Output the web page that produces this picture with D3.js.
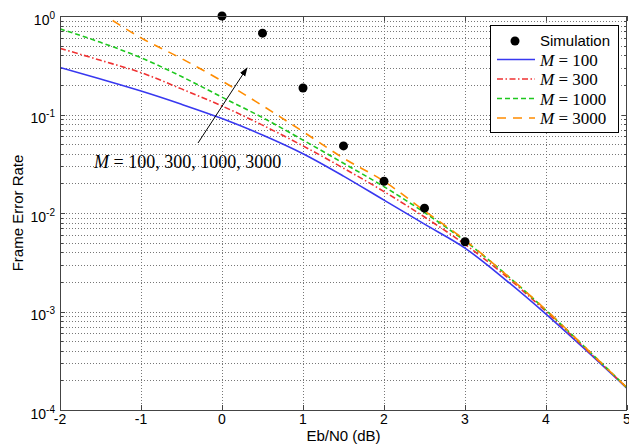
<!DOCTYPE html>
<html>
<head>
<meta charset="utf-8">
<script src="https://cdn.jsdelivr.net/npm/d3@7/dist/d3.min.js"></script>
<style>
  body { margin: 0; background: #fff; }
  text { font-family: "Liberation Sans", Arial, sans-serif; }
</style>
</head>
<body>
<div id="chart"></div>
<script>
////////////////////////////////////////////////////////////////////////
// Data

// simulated frame error rate
let simX = [0, 0.5, 1, 1.5, 2, 2.5, 3];
let simY = [1.0, 0.67, 0.186, 0.048, 0.021, 0.0112, 0.0051];

// analytical curves, one array per M
let snrX = [-2, -1.5, -1, -0.5, 0, 0.5, 1, 1.5, 2, 2.5, 3, 3.5, 4, 4.5, 5];
let fer100 = [0.30, 0.229, 0.173, 0.127, 0.091, 0.062, 0.040, 0.0237, 0.0135, 0.0077, 0.0044, 0.0021, 0.00094, 0.00040, 0.000166];
let fer300 = [0.47, 0.355, 0.266, 0.182, 0.122, 0.078, 0.048, 0.0285, 0.0165, 0.0091, 0.0048, 0.0023, 0.00100, 0.00041, 0.000168];
let fer1000 = [0.74, 0.54, 0.377, 0.243, 0.150, 0.093, 0.055, 0.032, 0.0185, 0.0101, 0.0052, 0.0024, 0.00103, 0.00042, 0.000168];
let snrX3000 = [-1.35, -1, -0.5, 0, 0.5, 1, 1.5, 2, 2.5, 3, 3.5, 4, 4.5, 5];
let fer3000 = [0.90, 0.60, 0.37, 0.219, 0.123, 0.067, 0.036, 0.021, 0.0105, 0.0053, 0.0024, 0.00104, 0.00042, 0.000168];

let xTicks = [-2, -1, 0, 1, 2, 3, 4, 5];
let yExps = [0, -1, -2, -3, -4];
let mValues = [100, 300, 1000, 3000];

////////////////////////////////////////////////////////////////////////
// svg and scales

let width = 629;
let height = 446;
let padLeft = 60, padRight = 627, padTop = 16, padBottom = 410;

let svg = d3.select("#chart").append("svg")
  .attr("width", width).attr("height", height);

let xScale = d3.scaleLinear().domain([-2, 5]).range([padLeft, padRight]);
let yScale = d3.scaleLog().domain([1e-4, 1]).range([padBottom, padTop]);

// grid: major x, major + minor y
let yGrid = [];
yExps.forEach(function(e) {
  if (e === 0) return;
  for (let k = 1; k <= 9; k++) yGrid.push(k * Math.pow(10, e));
});

let grid = svg.append("g").attr("class", "grid")
  .style("stroke", "#777").style("stroke-width", 1)
  .style("stroke-dasharray", "1,2").style("fill", "none");

grid.selectAll(".gx").data(xTicks.slice(1, -1)).enter()
  .append("line")
  .attr("x1", d => Math.round(xScale(d)) + 0.5).attr("x2", d => Math.round(xScale(d)) + 0.5)
  .attr("y1", padTop).attr("y2", padBottom);

grid.selectAll(".gy").data(yGrid.filter(v => v > 1e-4)).enter()
  .append("line")
  .attr("x1", padLeft).attr("x2", padRight)
  .attr("y1", d => Math.round(yScale(d)) + 0.5).attr("y2", d => Math.round(yScale(d)) + 0.5);

// ticks (inward, MATLAB style)
let ticks = svg.append("g").style("stroke", "#444").style("stroke-width", 1);
xTicks.forEach(function(d) {
  let x = Math.round(xScale(d)) + 0.5;
  ticks.append("line").attr("x1", x).attr("x2", x).attr("y1", padBottom).attr("y2", padBottom - 5);
  ticks.append("line").attr("x1", x).attr("x2", x).attr("y1", padTop).attr("y2", padTop + 5);
});
yGrid.concat([1]).forEach(function(d) {
  let y = Math.round(yScale(d)) + 0.5;
  let len = (Math.abs(Math.log10(d) - Math.round(Math.log10(d))) < 1e-9) ? 5 : 3;
  ticks.append("line").attr("x1", padLeft).attr("x2", padLeft + len).attr("y1", y).attr("y2", y);
  ticks.append("line").attr("x1", padRight).attr("x2", padRight - len).attr("y1", y).attr("y2", y);
});

// tick labels
svg.selectAll(".xlabel").data(xTicks).enter()
  .append("text")
  .attr("x", d => xScale(d)).attr("y", padBottom + 14)
  .attr("text-anchor", "middle").style("font-size", "14px")
  .text(d => d);

let yl = svg.selectAll(".ylabel").data(yExps).enter()
  .append("text")
  .attr("x", padLeft - 5).attr("y", d => yScale(Math.pow(10, d)) + 8.5)
  .attr("text-anchor", "end").style("font-size", "14px");
yl.append("tspan").text("10");
yl.append("tspan").attr("dy", -6).style("font-size", "10px").text(d => d);

// axis titles
svg.append("text").attr("x", (padLeft + padRight) / 2).attr("y", 441)
  .attr("text-anchor", "middle").style("font-size", "15px").text("Eb/N0 (dB)");
svg.append("text").attr("transform", "translate(23," + ((padTop + padBottom) / 2) + ") rotate(-90)")
  .attr("text-anchor", "middle").style("font-size", "15px").text("Frame Error Rate");

////////////////////////////////////////////////////////////////////////
// curves

let series = [
  { name: 100, xs: snrX, ys: fer100, color: "#3838f0", dash: null },
  { name: 300, xs: snrX, ys: fer300, color: "#f03232", dash: "6,2.5,1.5,2.5" },
  { name: 1000, xs: snrX, ys: fer1000, color: "#1ec81e", dash: "5,3" },
  { name: 3000, xs: snrX3000, ys: fer3000, color: "#ff8c00", dash: "9,7" }
];

let line = d3.line()
  .x(d => xScale(d[0])).y(d => yScale(d[1]))
  .curve(d3.curveMonotoneX);

svg.append("defs").append("clipPath").attr("id", "clip")
  .append("rect").attr("x", padLeft).attr("y", padTop)
  .attr("width", padRight - padLeft).attr("height", padBottom - padTop);

svg.append("g").attr("clip-path", "url(#clip)")
  .selectAll(".curve").data(series).enter()
  .append("path")
  .attr("class", "curve")
  .attr("d", s => line(s.xs.map((x, i) => [x, s.ys[i]])))
  .style("fill", "none").style("stroke", s => s.color)
  .style("stroke-width", 1.6)
  .style("stroke-dasharray", s => s.dash);

// simulation points
svg.selectAll(".sim").data(simX).enter()
  .append("circle")
  .attr("cx", d => xScale(d)).attr("cy", (d, i) => yScale(simY[i]))
  .attr("r", 4.5).style("fill", "#000");

// frame
svg.append("rect").attr("x", padLeft + 0.5).attr("y", padTop + 0.5)
  .attr("width", padRight - padLeft - 1).attr("height", padBottom - padTop)
  .style("fill", "none").style("stroke", "#444").style("stroke-width", 1);

////////////////////////////////////////////////////////////////////////
// annotation with arrow

svg.append("defs").append("marker")
  .attr("id", "arrow").attr("viewBox", "0 0 10 10")
  .attr("refX", 9).attr("refY", 5)
  .attr("markerWidth", 9).attr("markerHeight", 9).attr("orient", "auto")
  .append("path").attr("d", "M0,1.5 L10,5 L0,8.5 z").style("fill", "#000");

svg.append("line")
  .attr("x1", 198).attr("y1", 143).attr("x2", 247).attr("y2", 68)
  .style("stroke", "#000").style("stroke-width", 1)
  .attr("marker-end", "url(#arrow)");

let ann = svg.append("text").attr("x", 94).attr("y", 168)
  .style("font-family", "'Liberation Serif', 'DejaVu Serif', serif").style("font-size", "18px");
ann.append("tspan").style("font-style", "italic").text("M");
ann.append("tspan").text(" = " + mValues.join(", "));

////////////////////////////////////////////////////////////////////////
// legend

let lg = svg.append("g");
lg.append("rect").attr("x", 490.5).attr("y", 25.5).attr("width", 128).attr("height", 107)
  .style("fill", "#fff").style("stroke", "#000").style("stroke-width", 1);

lg.append("circle").attr("cx", 515).attr("cy", 41).attr("r", 4.5).style("fill", "#000");
lg.append("text").attr("x", 540).attr("y", 46).style("font-size", "15px").text("Simulation");

series.forEach(function(s, i) {
  let y = 59.5 + i * 19.5;
  lg.append("line").attr("x1", 497).attr("x2", 535).attr("y1", y).attr("y2", y)
    .style("stroke", s.color).style("stroke-width", 1.6)
    .style("stroke-dasharray", s.dash);
  let t = lg.append("text").attr("x", 540).attr("y", y + 6)
    .style("font-family", "'Liberation Serif', 'DejaVu Serif', serif").style("font-size", "17px");
  t.append("tspan").style("font-style", "italic").text("M");
  t.append("tspan").text(" = " + s.name);
});
</script>
</body>
</html>
